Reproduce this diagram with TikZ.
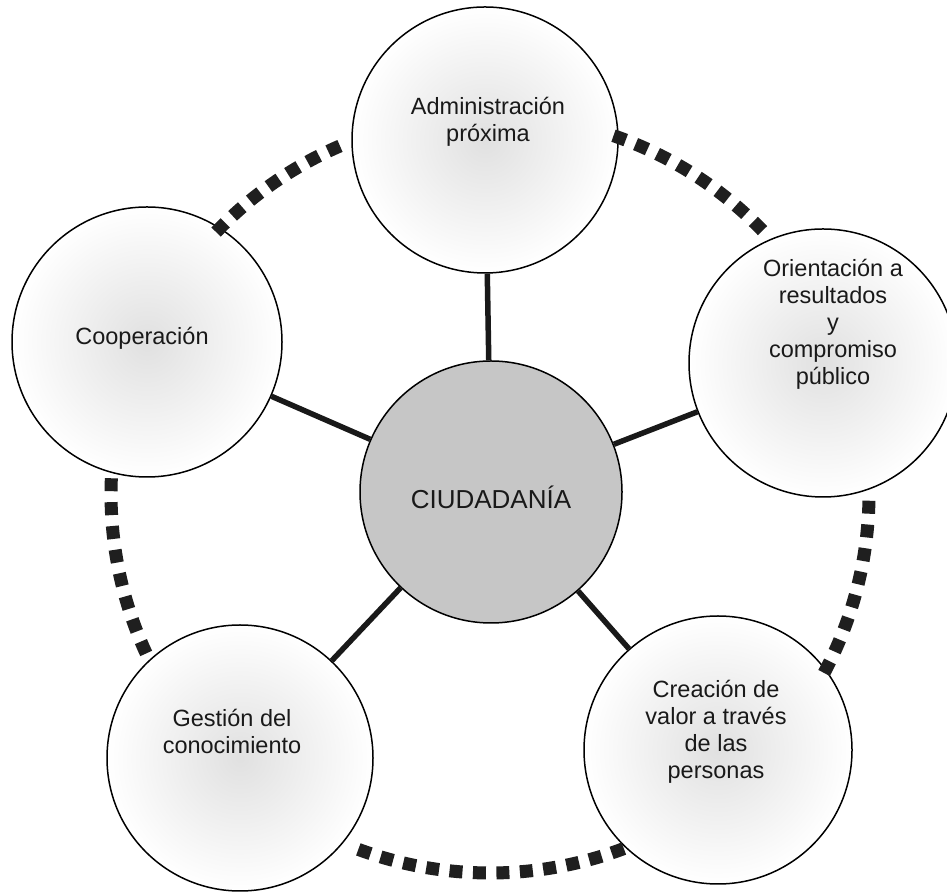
\documentclass[tikz,border=0pt]{standalone}
\usepackage{fontspec}
\setmainfont{Liberation Sans}
\begin{document}
\begin{tikzpicture}[x=1pt,y=1pt,
  outer/.style={circle, draw=black, line width=1.5pt, minimum size=#1, inner sep=0pt,
                inner color=gray!24, outer color=white},
  center/.style={circle, draw=black, line width=1.5pt, minimum size=262pt, inner sep=0pt,
                 fill=gray!45},
  lbl/.style={align=center, inner sep=0pt, font=\fontsize{23.5}{27}\selectfont, text=black!90},
  conn/.style={line width=5.5pt, draw=black!90},
  dashsq/.style={line width=13pt, draw=black!88}
]
\clip (0,0) rectangle (947,896);
\fill[white] (0,0) rectangle (947,896);
\coordinate (C) at (490,402);
% circles
\node[center] (c) at (491,404) {};
\node[outer=266pt] (t) at (485,756) {};
\node[outer=270pt] (l) at (147,554) {};
\node[outer=268pt] (r) at (823,533) {};
\node[outer=266pt] (bl) at (240,138) {};
\node[outer=268pt] (br) at (718,146) {};
% labels
\node[inner sep=0pt, font=\fontsize{26}{31}\selectfont, text=black!90] (ct) at (491,399) {CIUDADANÍA};
\node[lbl] (tt) at (488,774) {Administración\\próxima};
\node[lbl] (lt) at (142,558) {Cooperación};
\node[lbl] (rt) at (833,572) {Orientación a\\resultados\\y\\compromiso\\público};
\node[lbl] (blt) at (232,165) {Gestión del\\conocimiento};
\node[lbl] (brt) at (716,164) {Creación de\\valor a través\\de las\\personas};
% connectors
\draw[conn] (c) -- (t);
\draw[conn] (c) -- (l);
\draw[conn] (c) -- (r);
\draw[conn] (c) -- (bl);
\draw[conn] (c) -- (br);
% dashed ring
\foreach \a/\b/\n in {135.3/114.3/7, 70/45/8, 178.6/203.9/8, -2/-27.2/8, 250.65/289.7/12} {
  \foreach \i in {1,...,\n} {
    \pgfmathsetmacro\s{\a+(\i-1)*(\b-\a)/(\n-1)-0.98}
    \draw[dashsq] ([shift={(\s:379)}]C) arc[start angle=\s, delta angle=1.96, radius=379];
  }
}
\end{tikzpicture}
\end{document}
